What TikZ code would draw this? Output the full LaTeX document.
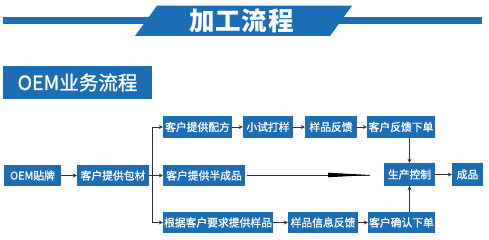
\documentclass[tikz,border=0pt]{standalone}
\usepackage{fontspec}
\setmainfont{Noto Sans CJK SC}
\newfontfamily\cjkm[FakeBold=1.2]{Noto Sans CJK SC}
\usetikzlibrary{arrows.meta}
\definecolor{bblue}{HTML}{1B6DB4}
\definecolor{lineg}{HTML}{333333}
\tikzset{
  box/.style={fill=bblue, text=white, inner sep=0pt, minimum height=21.5pt, font=\cjkm\fontsize{10.8}{12}\selectfont},
  conn/.style={draw=lineg, line width=0.9pt, -{Stealth[length=4pt,width=4pt]}},
  plain/.style={draw=lineg, line width=0.9pt}
}
\begin{document}
\begin{tikzpicture}[x=1pt,y=-1pt]
\useasboundingbox (0,0) rectangle (489,240);
% banner
\draw[bblue, line width=6.5pt] (3,20.7) -- (482,20.7);
\fill[bblue] (157,5.7) -- (352,5.7) -- (330,36) -- (135,36) -- cycle;
\node[text=white, font=\bfseries\fontsize{25.5}{28}\selectfont] (title) at (241.5,21) {加\hspace{1pt}工\hspace{1pt}流\hspace{1pt}程};
% section label
\node[fill=bblue, text=white, inner sep=0pt, minimum width=149pt, minimum height=33pt, font=\cjkm\fontsize{19.5}{22}\selectfont] (sec) at (77.5,82.5) {OEM业务流程};
% flow nodes
\node[box, minimum width=57pt] (oem) at (32.5,175.5) {OEM贴牌};
\node[box, minimum width=72pt] (bc) at (113,175.5) {客户提供包材};
\node[box, minimum width=69pt] (pf) at (197.5,127) {客户提供配方};
\node[box, minimum width=82pt] (bcp) at (204,175.5) {客户提供半成品};
\node[box, minimum width=110pt] (gj) at (218,222.5) {根据客户要求提供样品};
\node[box, minimum width=50pt] (xs) at (268,127) {小试打样};
\node[box, minimum width=52pt] (yp) at (331,127) {样品反馈};
\node[box, minimum width=68pt] (kf) at (401,127) {客户反馈下单};
\node[box, minimum width=51pt, minimum height=23pt] (pc) at (409.5,174.5) {生产控制};
\node[box, minimum width=31pt, minimum height=23pt] (cp) at (467.5,174.5) {成品};
\node[box, minimum width=70pt] (xx) at (323,222.5) {样品信息反馈};
\node[box, minimum width=67pt] (kq) at (401.5,222.5) {客户确认下单};
% connectors
\draw[conn] (oem) -- (bc);
\coordinate (br) at (152,175.5);
\draw[plain] (bc.east) -- (br);
\draw[conn] (br) |- (pf.west);
\draw[conn] (br) -- (bcp.west);
\draw[conn] (br) |- (gj.west);
\draw[conn] (pf) -- (xs);
\draw[conn] (xs) -- (yp);
\draw[conn] (yp) -- (kf);
\draw[conn] (gj) -- (xx);
\draw[conn] (xx) -- (kq);
\draw[conn] (kf.south -| pc.north) -- (pc.north);
\draw[conn] (kq.north -| pc.south) -- (pc.south);
\draw[conn] (pc) -- (cp);
% long arrow with tapered head
\coordinate (lt) at (370,175);
\draw[draw=lineg, line width=0.9pt] (bcp.east) ++(2,-0.5) -- (lt);
\fill[black] (328,172.7) -- (328,177.3) -- (lt) -- cycle;
\end{tikzpicture}
\end{document}
